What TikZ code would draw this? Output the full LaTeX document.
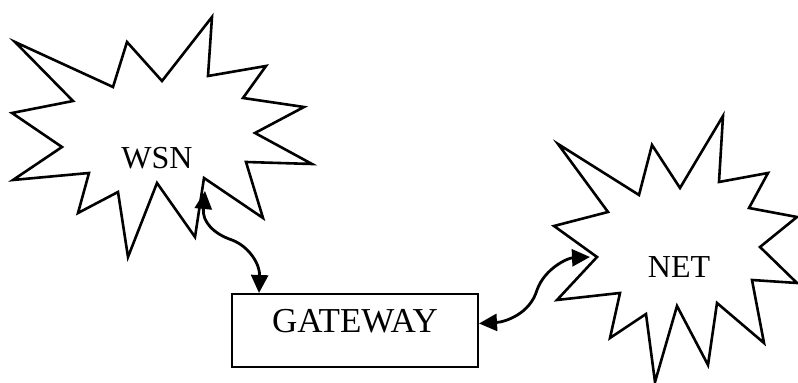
\documentclass[tikz,border=0pt]{standalone}
\usepackage{fontspec}
\setmainfont{Liberation Serif}
\usetikzlibrary{arrows.meta}
\tikzset{
  burst/.style={line width=1.3pt, line join=miter},
  cloudtext/.style={font=\fontsize{16}{19}\selectfont},
  gwbox/.style={draw, line width=1pt, inner sep=0pt, minimum width=123pt,
    text height=19.5pt, text depth=17pt, font=\fontsize{17.5}{21}\selectfont},
  link/.style={{Triangle[length=9pt,width=8.5pt]}-{Triangle[length=9pt,width=8.5pt]}, line width=1.4pt}
}

\begin{document}
\begin{tikzpicture}[x=0.5pt,y=-0.5pt]
                \useasboundingbox (0,0) rectangle (798,383);

                % WSN cloud
                \draw[burst] (15,42) -- (73,101) -- (12,113) -- (62,147) -- (13,180)
                    -- (89,173) -- (78,213) -- (118,192) -- (128,257) -- (157,183)
                    -- (195,237) -- (204,178) -- (263,218) -- (246,162) -- (312,164)
                    -- (255,133) -- (304,107) -- (243,98) -- (266,66) -- (208,76)
                    -- (212,17) -- (162,81) -- (127,42) -- (113,87) -- cycle;
                \node[cloudtext] (wsn) at (157,158) {WSN};

                % NET cloud
                \draw[burst] (558,144) -- (608,212) -- (554,226) -- (597,257) -- (557,300)
                    -- (620,293) -- (610,338) -- (646,314) -- (655,382) -- (677,306)
                    -- (708,365) -- (717,303) -- (764,343) -- (752,280) -- (797,283)
                    -- (760,247) -- (797,217) -- (749,208) -- (768,173) -- (719,182)
                    -- (723,116) -- (680,188) -- (652,145) -- (639,195) -- cycle;
                \node[cloudtext] (net) at (679,267) {NET};

                % Gateway box
                \node[gwbox] (gw) at (355,330.5) {GATEWAY};

                % Link ends on the clouds
                \coordinate (wsnport) at (205,191);
                \coordinate (netport) at (590,257);

                % Links
                \draw[link] (wsnport) .. controls (202,222) and (214,234) .. (232,240)
                    .. controls (250,247) and (260,265) .. ([xshift=14pt]gw.north west);
                \draw[link] ([yshift=3.5pt]gw.east) .. controls (505,322) and (530,314) .. (537,290)
                    .. controls (545,268) and (568,258) .. (netport);
            \end{tikzpicture}
\end{document}
